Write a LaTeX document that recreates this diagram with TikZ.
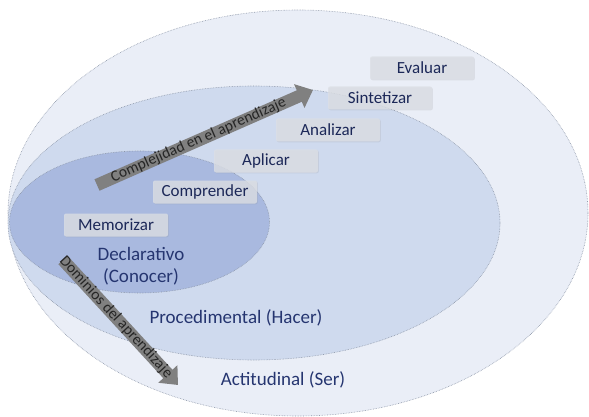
\documentclass[tikz,border=0pt]{standalone}
\usepackage{fontspec}
\setmainfont{Carlito}
\usetikzlibrary{arrows.meta,shadows,shapes.geometric}
\definecolor{outerfill}{HTML}{EAEEF7}
\definecolor{midfill}{HTML}{CFDAEE}
\definecolor{innerfill}{HTML}{A9B9DF}
\definecolor{navy}{HTML}{1C2858}
\definecolor{labnavy}{HTML}{253570}
\definecolor{edgegray}{HTML}{8C96A8}
\definecolor{arrowgray}{HTML}{808080}
\definecolor{boxfill}{HTML}{DCDFE5}
\begin{document}
\begin{tikzpicture}[x=1pt,y=-1pt,
  domainell/.style={ellipse, draw=edgegray, densely dotted, line width=0.6pt, inner sep=0pt},
  stepbox/.style={rectangle, rounded corners=2pt, fill=boxfill, fill opacity=0.8, text opacity=1,
    minimum width=104pt, minimum height=23pt, text=navy, font=\fontsize{17}{19}\selectfont, inner sep=0pt,
    drop shadow={opacity=0.15,shadow xshift=0.8pt,shadow yshift=-0.8pt}},
  domlabel/.style={text=labnavy, font=\fontsize{19}{22}\selectfont, align=center},
  bigarrow/.style={draw=arrowgray, line width=12.5pt, -{Triangle[length=15pt,width=25pt]}},
  arrowtext/.style={font=\fontsize{15.5}{17}\selectfont, text=black!85, sloped, inner sep=0pt}
]
\useasboundingbox (0,0) rectangle (589,417);
\fill[white] (0,0) rectangle (589,417);
% domains
\node[domainell, fill=outerfill, minimum width=580pt, minimum height=406pt] (actitudinal) at (298,213) {};
\node[domainell, fill=midfill, minimum width=492pt, minimum height=274pt] (procedimental) at (254,223) {};
\node[domainell, fill=innerfill, minimum width=260pt, minimum height=142pt] (declarativo) at (139.5,222) {};
% domain labels
\node[domlabel] (ldecl) at (141,266) {Declarativo\\(Conocer)};
\node[domlabel] (lproc) at (236,318) {Procedimental (Hacer)};
\node[domlabel] (lacti) at (283,380) {Actitudinal (Ser)};
% steps
\node[stepbox] (evaluar) at (422,68) {Evaluar};
\node[stepbox] (sintetizar) at (380,98) {Sintetizar};
\node[stepbox] (analizar) at (328,130) {Analizar};
\node[stepbox] (aplicar) at (266,161) {Aplicar};
\node[stepbox] (comprender) at (205,192) {Comprender};
\node[stepbox] (memorizar) at (116,225) {Memorizar};
% arrows
\coordinate (c1) at (97,185);
\coordinate (c2) at (313,90);
\coordinate (d1) at (63,260);
\coordinate (d2) at (178,385);
\draw[bigarrow] (c1) -- node[arrowtext, pos=0.47] (tcomp) {Complejidad en el aprendizaje} (c2);
\draw[bigarrow] (d1) -- node[arrowtext, pos=0.46] (tdom) {Dominios del aprendizaje} (d2);
\end{tikzpicture}
\end{document}
